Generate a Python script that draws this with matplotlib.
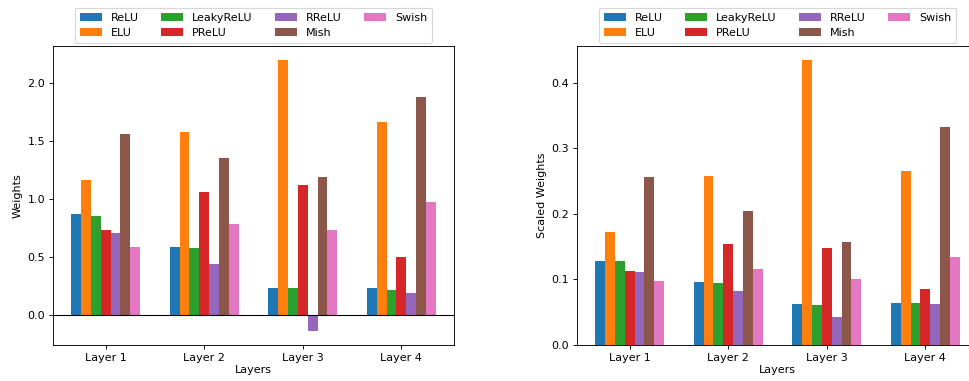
import numpy as np
import matplotlib
matplotlib.use("Agg")
import matplotlib.pyplot as plt

layers = ["Layer 1", "Layer 2", "Layer 3", "Layer 4"]
activations = ["ReLU", "ELU", "LeakyReLU", "PReLU", "RReLU", "Mish", "Swish"]

# raw weights per activation, one value per layer
weights = {
    "ReLU":      [0.867, 0.584, 0.240, 0.232],
    "ELU":       [1.159, 1.579, 2.197, 1.657],
    "LeakyReLU": [0.858, 0.575, 0.232, 0.215],
    "PReLU":     [0.738, 1.056, 1.124, 0.506],
    "RReLU":     [0.712, 0.438, -0.137, 0.197],
    "Mish":      [1.554, 1.348, 1.185, 1.880],
    "Swish":     [0.584, 0.781, 0.730, 0.970],
}

# scaled weights
scaled = {
    "ReLU":      [0.1276, 0.0956, 0.0620, 0.0635],
    "ELU":       [0.1718, 0.2572, 0.4341, 0.2648],
    "LeakyReLU": [0.1276, 0.0940, 0.0605, 0.0635],
    "PReLU":     [0.1123, 0.1535, 0.1474, 0.0849],
    "RReLU":     [0.1108, 0.0818, 0.0422, 0.0620],
    "Mish":      [0.2557, 0.2038, 0.1565, 0.3319],
    "Swish":     [0.0971, 0.1154, 0.1001, 0.1337],
}

DPI = 80
W, H = 969, 381
fig = plt.figure(figsize=(W / DPI, H / DPI), dpi=DPI)

ax1 = fig.add_axes([53 / W, 36 / H, 401 / W, 299 / H])
ax2 = fig.add_axes([577 / W, 36 / H, 401 / W, 299 / H])

x = np.arange(len(layers))
width = 0.1


def draw(ax, data, ylabel):
    for i, name in enumerate(activations):
        ax.bar(x + (i - 3) * width, data[name], width, label=name)
    ax.set_xticks(x)
    ax.set_xticklabels(layers)
    ax.set_xlabel("Layers", labelpad=2)
    ax.set_ylabel(ylabel)
    ax.legend(loc="lower center", bbox_to_anchor=(0.5, 1.0), ncol=4,
              borderaxespad=0.3)


draw(ax1, weights, "Weights")
ax1.axhline(0, color="black", linewidth=1)
draw(ax2, scaled, "Scaled Weights")

fig.savefig("out.png", dpi=DPI)
